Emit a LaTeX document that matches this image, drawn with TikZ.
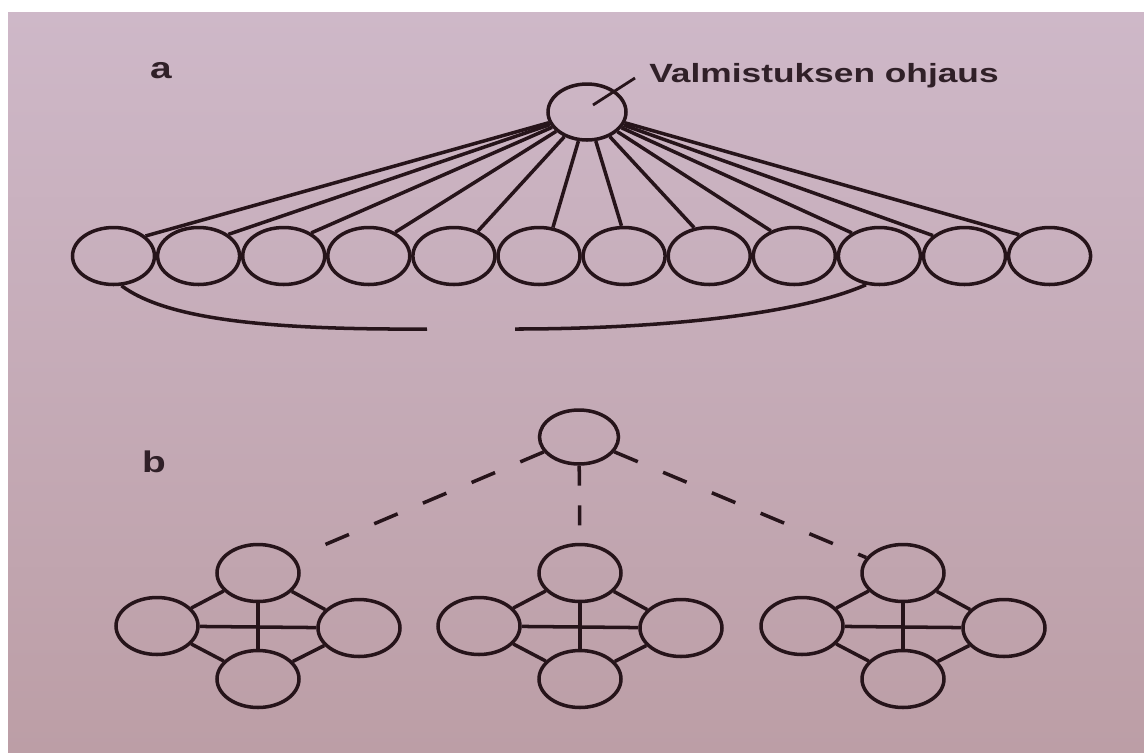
\documentclass[tikz,border=0pt]{standalone}
\usepackage{fontspec}
\setmainfont{Liberation Sans}
\usetikzlibrary{shapes.geometric}
\definecolor{bgtop}{RGB}{206,184,200}
\definecolor{bgbot}{RGB}{188,158,166}
\definecolor{ink}{RGB}{38,20,26}
\definecolor{txt}{RGB}{48,32,40}
\begin{document}
\begin{tikzpicture}[x=0.02cm,y=-0.02cm,
  ell/.style={ellipse, draw=ink, line width=2pt, inner sep=0pt, minimum width=1.64cm, minimum height=1.14cm},
  conn/.style={draw=ink, line width=2pt},
  dashconn/.style={conn, dash pattern=on 14.5pt off 15.6pt},
  vdash/.style={conn, dash pattern=on 11.3pt off 11.3pt},
  lbl/.style={font=\bfseries\fontsize{15}{18}\selectfont, text=txt, inner sep=0pt},
  letter/.style={font=\bfseries\fontsize{17}{20}\selectfont, text=txt, inner sep=0pt}]
\fill[white] (0,0) rectangle (1144,752);
\shade[top color=bgtop, bottom color=bgbot] (8,12) rectangle (1144,752);
\useasboundingbox (0,0) rectangle (1144,752);

% ---- part a ----
\node[letter, anchor=base] (la) at (161,78) {\scalebox{1.3}[1]{a}};
\node[ell, minimum width=1.56cm, minimum height=1.12cm] (ta) at (587,112) {};
\foreach \i in {1,...,12}
  \node[ell] (a\i) at ({113.5+85.1*(\i-1)},256) {};
\foreach \i/\ang in {1/32,2/36,3/40,4/42,5/46,6/64,7/95,8/118,9/133,10/140,11/147,12/145}
  \draw[conn] (ta) -- (a\i.\ang);
\node[lbl, anchor=base west] (lab) at (649,82) {\scalebox{1.34}[1]{Valmistuksen ohjaus}};
\coordinate (lead0) at (593,105);
\coordinate (lead1) at (635,78);
\draw[conn, line width=1.6pt] (lead0) -- (lead1);
\coordinate (bl) at (427,329);
\coordinate (br) at (515,329);
\draw[conn] (a1.-75) .. controls (165,318) and (260,330) .. (bl);
\draw[conn] (br) .. controls (650,329) and (795,316) .. (a10.-115);

% ---- part b ----
\node[letter, anchor=base] (lb) at (154,472) {\scalebox{1.3}[1]{b}};
\node[ell, minimum width=1.58cm, minimum height=1.08cm] (tb) at (579,437) {};
\foreach \k/\cx in {L/258, M/580, R/903} {
  \node[ell] (\k t) at (\cx,573) {};
  \node[ell] (\k l) at ({\cx-101},626) {};
  \node[ell] (\k r) at ({\cx+101},628) {};
  \node[ell] (\k b) at (\cx,679) {};
  \draw[conn] (\k l) -- (\k r);
  \draw[conn] (\k t) -- (\k b);
  \draw[conn] (\k l) -- (\k t);
  \draw[conn] (\k t) -- (\k r);
  \draw[conn] (\k r) -- (\k b);
  \draw[conn] (\k b) -- (\k l);
}
\draw[dashconn, shorten >=0.62cm] (tb) -- (Lt);
\draw[vdash] (tb) -- (Mt);
\draw[dashconn] (tb) -- (Rt);
\end{tikzpicture}
\end{document}
